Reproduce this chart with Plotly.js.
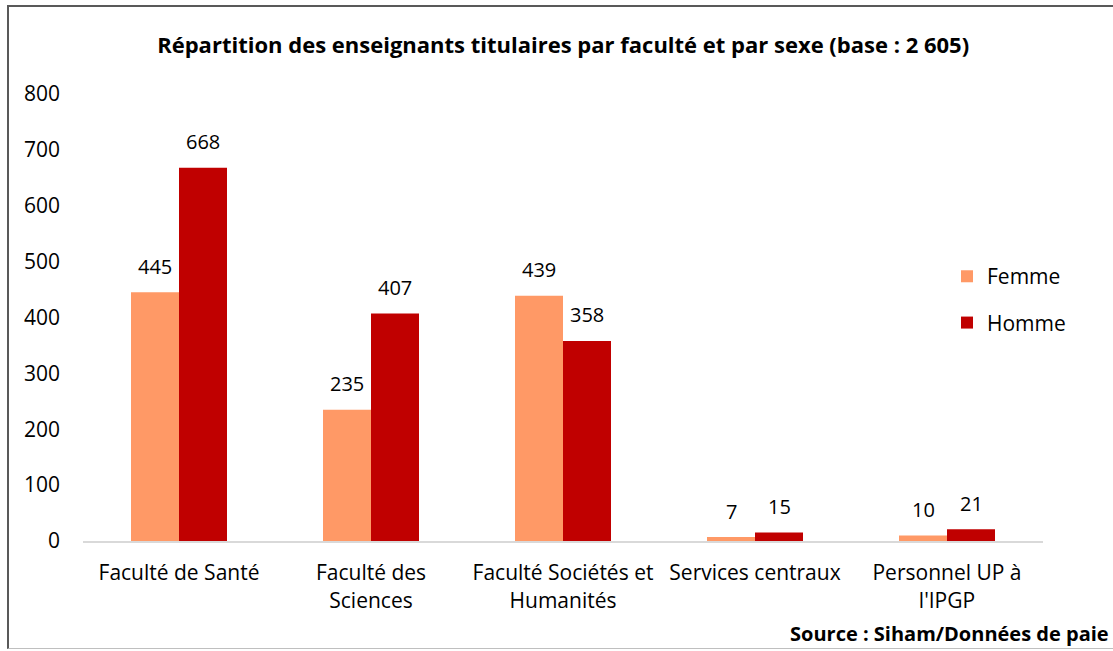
<!DOCTYPE html>
<html><head><meta charset="utf-8">
<script src="https://cdn.plot.ly/plotly-3.0.1.min.js"></script>
<style>
html,body{margin:0;padding:0;background:#fff;}
#frame{position:absolute;left:7px;top:5px;width:1110px;height:644px;border-left:2px solid #595959;border-top:2px solid #595959;border-bottom:1px solid #bfbfbf;box-sizing:border-box;pointer-events:none;z-index:10;}
#chart{width:1113px;height:651px;}
</style></head>
<body>
<div id="frame"></div>
<div id="chart"></div>
<script>
var categories = ["Faculté de Santé", "Faculté des<br>Sciences", "Faculté Sociétés et<br>Humanités", "Services centraux", "Personnel UP à<br>l'IPGP"];
var femme = [445, 235, 439, 7, 10];
var homme = [668, 407, 358, 15, 21];
var yTicks = [0, 100, 200, 300, 400, 500, 600, 700, 800];

var FONT = "'Open Sans', sans-serif";
var traces = [
  {type: "bar", name: "Femme", legendgroup: "f", x: categories, y: femme, marker: {color: "#FF9966"}},
  {type: "bar", name: "Homme", legendgroup: "h", x: categories, y: homme, marker: {color: "#C00000"}}
];
var annotations = [];
femme.forEach(function (v, i) {
  annotations.push({x: categories[i], y: v, xref: "x", yref: "y", text: String(v), showarrow: false,
    xshift: -24, yshift: 26, yanchor: "middle", font: {family: FONT, size: 20, color: "#000"}});
});
homme.forEach(function (v, i) {
  annotations.push({x: categories[i], y: v, xref: "x", yref: "y", text: String(v), showarrow: false,
    xshift: 24, yshift: 26, yanchor: "middle", font: {family: FONT, size: 20, color: "#000"}});
});
annotations.push({text: "<b>Source : Siham/Données de paie</b>", xref: "paper", yref: "paper",
  x: 1.071, y: -0.207, xanchor: "right", yanchor: "middle", showarrow: false,
  font: {family: FONT, size: 20, color: "#000"}});

var layout = {
  width: 1113, height: 651,
  margin: {l: 83, r: 70, t: 94, b: 110},
  paper_bgcolor: "#fff", plot_bgcolor: "#fff",
  font: {family: FONT, size: 21, color: "#000"},
  title: {text: "<b>Répartition des enseignants titulaires par faculté et par sexe (base : 2 605)</b>",
          font: {family: FONT, size: 22, color: "#000"}, x: 0.506, xanchor: "center", y: 0.93, yanchor: "middle"},
  barmode: "group", bargap: 0.5, bargroupgap: 0,
  xaxis: {showline: true, linecolor: "#d9d9d9", linewidth: 2, ticks: "", showgrid: false, ticklabelstandoff: 12,
          tickfont: {family: FONT, size: 21, color: "#000"}, fixedrange: true},
  yaxis: {range: [0, 800], tickvals: yTicks, ticktext: yTicks.map(String), showgrid: false, zeroline: false,
          showline: false, ticks: "", ticklabelstandoff: 22,
          tickfont: {family: FONT, size: 21, color: "#000"}, fixedrange: true},
  legend: {x: 0.9, y: 0.54, xanchor: "left", yanchor: "middle", font: {family: FONT, size: 21, color: "#000"},
           tracegroupgap: 16, itemwidth: 30, bgcolor: "rgba(0,0,0,0)"},
  annotations: annotations,
  showlegend: true
};
Plotly.newPlot("chart", traces, layout, {displayModeBar: false, staticPlot: true});
</script>
</body></html>
